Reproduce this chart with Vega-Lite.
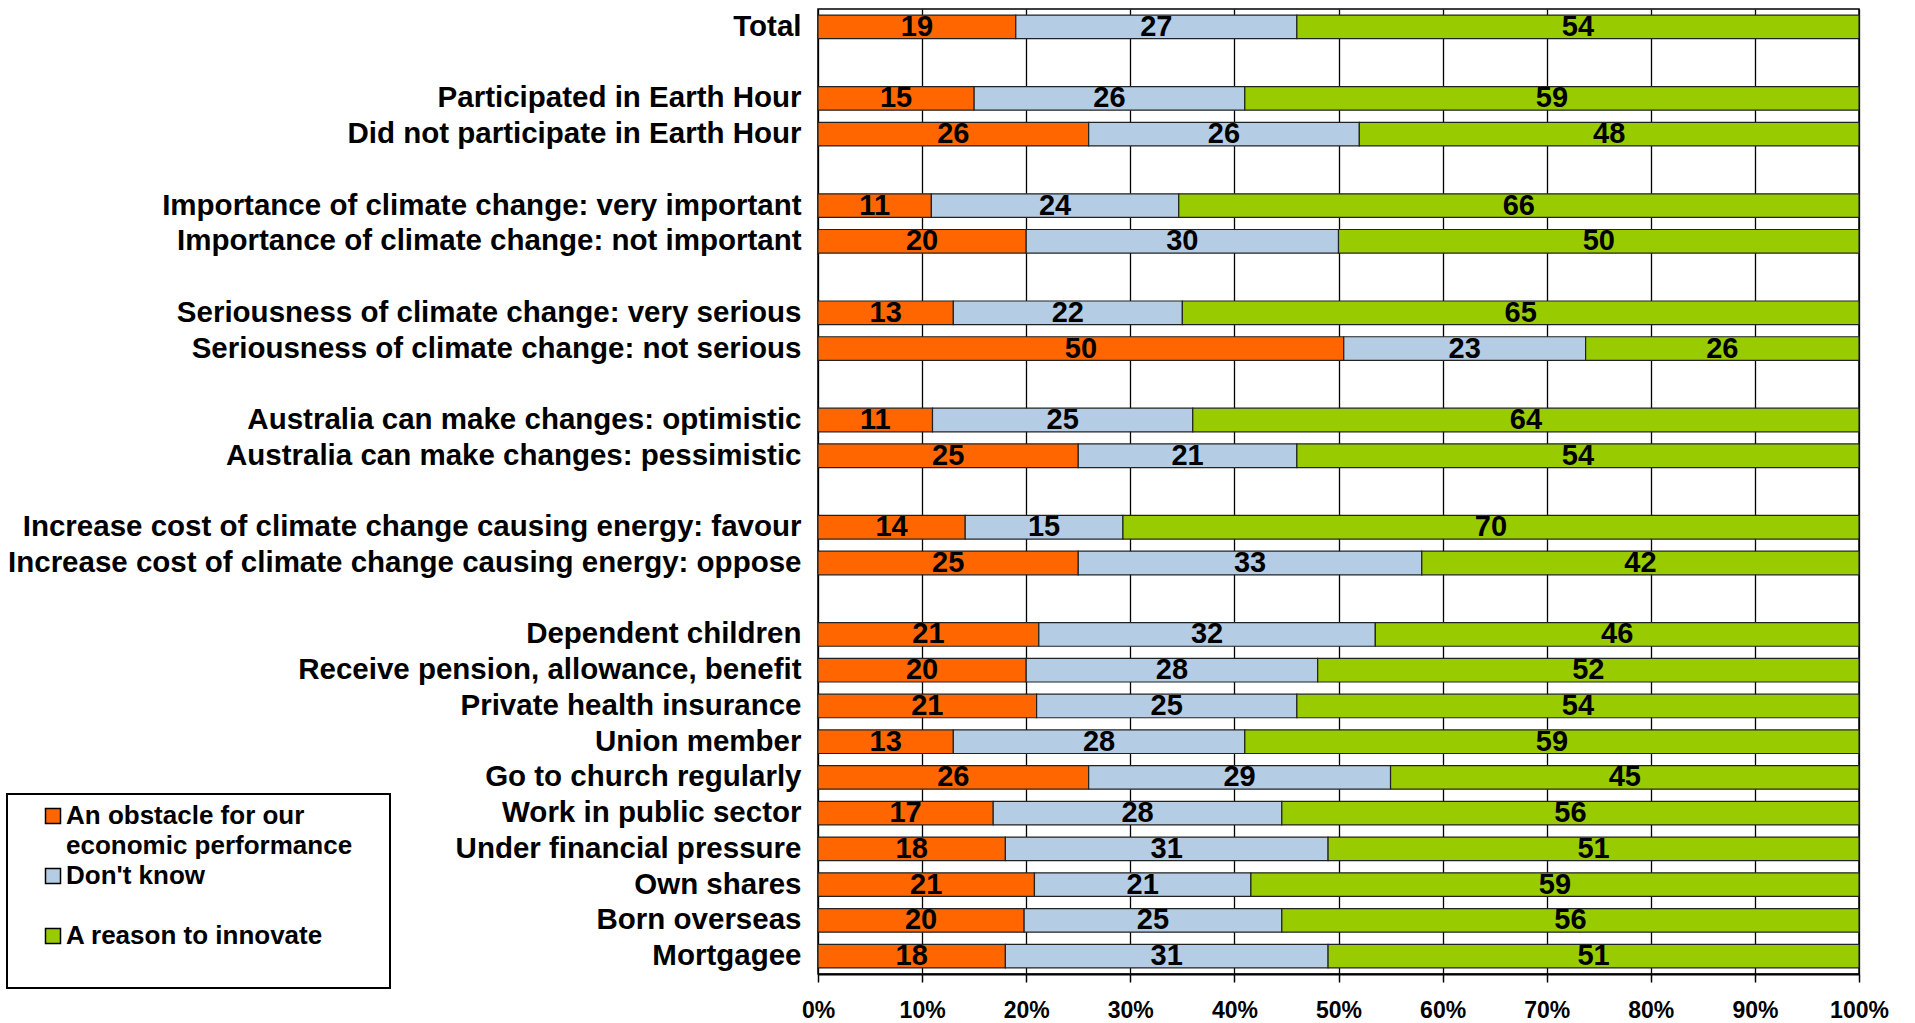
{
  "$schema": "https://vega.github.io/schema/vega-lite/v6.json",
  "autosize": {"type": "none"},
  "padding": {"left": 818, "top": 9, "right": 56, "bottom": 49},
  "width": 1041,
  "height": 965,
  "background": "#ffffff",
  "config": {
    "font": "Liberation Sans",
    "view": {"stroke": "#000000", "strokeWidth": 1.5}
  },
  "datasets": {
    "rows": [
      {"c": "Total", "s": "An obstacle for our economic performance", "k": 1, "v": 19},
      {"c": "Total", "s": "Don't know", "k": 2, "v": 27},
      {"c": "Total", "s": "A reason to innovate", "k": 3, "v": 54},
      {"c": "Participated in Earth Hour", "s": "An obstacle for our economic performance", "k": 1, "v": 15},
      {"c": "Participated in Earth Hour", "s": "Don't know", "k": 2, "v": 26},
      {"c": "Participated in Earth Hour", "s": "A reason to innovate", "k": 3, "v": 59},
      {"c": "Did not participate in Earth Hour", "s": "An obstacle for our economic performance", "k": 1, "v": 26},
      {"c": "Did not participate in Earth Hour", "s": "Don't know", "k": 2, "v": 26},
      {"c": "Did not participate in Earth Hour", "s": "A reason to innovate", "k": 3, "v": 48},
      {"c": "Importance of climate change: very important", "s": "An obstacle for our economic performance", "k": 1, "v": 11},
      {"c": "Importance of climate change: very important", "s": "Don't know", "k": 2, "v": 24},
      {"c": "Importance of climate change: very important", "s": "A reason to innovate", "k": 3, "v": 66},
      {"c": "Importance of climate change: not important", "s": "An obstacle for our economic performance", "k": 1, "v": 20},
      {"c": "Importance of climate change: not important", "s": "Don't know", "k": 2, "v": 30},
      {"c": "Importance of climate change: not important", "s": "A reason to innovate", "k": 3, "v": 50},
      {"c": "Seriousness of climate change: very serious", "s": "An obstacle for our economic performance", "k": 1, "v": 13},
      {"c": "Seriousness of climate change: very serious", "s": "Don't know", "k": 2, "v": 22},
      {"c": "Seriousness of climate change: very serious", "s": "A reason to innovate", "k": 3, "v": 65},
      {"c": "Seriousness of climate change: not serious", "s": "An obstacle for our economic performance", "k": 1, "v": 50},
      {"c": "Seriousness of climate change: not serious", "s": "Don't know", "k": 2, "v": 23},
      {"c": "Seriousness of climate change: not serious", "s": "A reason to innovate", "k": 3, "v": 26},
      {"c": "Australia can make changes: optimistic", "s": "An obstacle for our economic performance", "k": 1, "v": 11},
      {"c": "Australia can make changes: optimistic", "s": "Don't know", "k": 2, "v": 25},
      {"c": "Australia can make changes: optimistic", "s": "A reason to innovate", "k": 3, "v": 64},
      {"c": "Australia can make changes: pessimistic", "s": "An obstacle for our economic performance", "k": 1, "v": 25},
      {"c": "Australia can make changes: pessimistic", "s": "Don't know", "k": 2, "v": 21},
      {"c": "Australia can make changes: pessimistic", "s": "A reason to innovate", "k": 3, "v": 54},
      {"c": "Increase cost of climate change causing energy: favour", "s": "An obstacle for our economic performance", "k": 1, "v": 14},
      {"c": "Increase cost of climate change causing energy: favour", "s": "Don't know", "k": 2, "v": 15},
      {"c": "Increase cost of climate change causing energy: favour", "s": "A reason to innovate", "k": 3, "v": 70},
      {"c": "Increase cost of climate change causing energy: oppose", "s": "An obstacle for our economic performance", "k": 1, "v": 25},
      {"c": "Increase cost of climate change causing energy: oppose", "s": "Don't know", "k": 2, "v": 33},
      {"c": "Increase cost of climate change causing energy: oppose", "s": "A reason to innovate", "k": 3, "v": 42},
      {"c": "Dependent children", "s": "An obstacle for our economic performance", "k": 1, "v": 21},
      {"c": "Dependent children", "s": "Don't know", "k": 2, "v": 32},
      {"c": "Dependent children", "s": "A reason to innovate", "k": 3, "v": 46},
      {"c": "Receive pension, allowance, benefit", "s": "An obstacle for our economic performance", "k": 1, "v": 20},
      {"c": "Receive pension, allowance, benefit", "s": "Don't know", "k": 2, "v": 28},
      {"c": "Receive pension, allowance, benefit", "s": "A reason to innovate", "k": 3, "v": 52},
      {"c": "Private health insurance", "s": "An obstacle for our economic performance", "k": 1, "v": 21},
      {"c": "Private health insurance", "s": "Don't know", "k": 2, "v": 25},
      {"c": "Private health insurance", "s": "A reason to innovate", "k": 3, "v": 54},
      {"c": "Union member", "s": "An obstacle for our economic performance", "k": 1, "v": 13},
      {"c": "Union member", "s": "Don't know", "k": 2, "v": 28},
      {"c": "Union member", "s": "A reason to innovate", "k": 3, "v": 59},
      {"c": "Go to church regularly", "s": "An obstacle for our economic performance", "k": 1, "v": 26},
      {"c": "Go to church regularly", "s": "Don't know", "k": 2, "v": 29},
      {"c": "Go to church regularly", "s": "A reason to innovate", "k": 3, "v": 45},
      {"c": "Work in public sector", "s": "An obstacle for our economic performance", "k": 1, "v": 17},
      {"c": "Work in public sector", "s": "Don't know", "k": 2, "v": 28},
      {"c": "Work in public sector", "s": "A reason to innovate", "k": 3, "v": 56},
      {"c": "Under financial pressure", "s": "An obstacle for our economic performance", "k": 1, "v": 18},
      {"c": "Under financial pressure", "s": "Don't know", "k": 2, "v": 31},
      {"c": "Under financial pressure", "s": "A reason to innovate", "k": 3, "v": 51},
      {"c": "Own shares", "s": "An obstacle for our economic performance", "k": 1, "v": 21},
      {"c": "Own shares", "s": "Don't know", "k": 2, "v": 21},
      {"c": "Own shares", "s": "A reason to innovate", "k": 3, "v": 59},
      {"c": "Born overseas", "s": "An obstacle for our economic performance", "k": 1, "v": 20},
      {"c": "Born overseas", "s": "Don't know", "k": 2, "v": 25},
      {"c": "Born overseas", "s": "A reason to innovate", "k": 3, "v": 56},
      {"c": "Mortgagee", "s": "An obstacle for our economic performance", "k": 1, "v": 18},
      {"c": "Mortgagee", "s": "Don't know", "k": 2, "v": 31},
      {"c": "Mortgagee", "s": "A reason to innovate", "k": 3, "v": 51}
    ]
  },
  "data": {"name": "rows"},
  "encoding": {
    "y": {
      "field": "c",
      "type": "nominal",
      "sort": null,
      "scale": {
        "domain": ["Total", " ", "Participated in Earth Hour", "Did not participate in Earth Hour", "  ", "Importance of climate change: very important", "Importance of climate change: not important", "   ", "Seriousness of climate change: very serious", "Seriousness of climate change: not serious", "    ", "Australia can make changes: optimistic", "Australia can make changes: pessimistic", "     ", "Increase cost of climate change causing energy: favour", "Increase cost of climate change causing energy: oppose", "      ", "Dependent children", "Receive pension, allowance, benefit", "Private health insurance", "Union member", "Go to church regularly", "Work in public sector", "Under financial pressure", "Own shares", "Born overseas", "Mortgagee"],
        "paddingInner": 0.34,
        "paddingOuter": 0.17
      },
      "axis": {
        "title": null,
        "ticks": false,
        "domain": false,
        "labelFont": "Liberation Sans",
        "labelFontSize": 29.5,
        "labelFontWeight": "bold",
        "labelColor": "#000000",
        "labelPadding": 17,
        "labelLimit": 1000
      }
    }
  },
  "layer": [
    {
      "mark": {"type": "bar", "stroke": "#222222", "strokeWidth": 1.2},
      "encoding": {
        "x": {
          "field": "v",
          "type": "quantitative",
          "stack": "normalize",
          "scale": {"domain": [0, 1], "nice": false},
          "axis": {
            "title": null,
            "values": [0, 0.1, 0.2, 0.3, 0.4, 0.5, 0.6, 0.7, 0.8, 0.9, 1],
            "format": ".0%",
            "grid": true,
            "gridColor": "#000000",
            "gridWidth": 1.3,
            "gridOpacity": 1,
            "domainColor": "#000000",
            "domainWidth": 2,
            "tickColor": "#000000",
            "tickWidth": 1.5,
            "tickSize": 8,
            "labelFont": "Liberation Sans",
            "labelFontSize": 23,
            "labelFontWeight": "bold",
            "labelColor": "#000000",
            "labelPadding": 17,
            "labelFlush": false,
            "labelOverlap": false,
            "labelBound": false
          }
        },
        "order": {"field": "k", "type": "quantitative"},
        "color": {
          "field": "s",
          "type": "nominal",
          "scale": {
            "domain": ["An obstacle for our economic performance", "Don't know", "A reason to innovate"],
            "range": ["#FF6600", "#B4CCE4", "#99CC00"]
          },
          "legend": {
            "orient": "none",
            "legendX": -811,
            "legendY": 785,
            "title": null,
            "padding": 9,
            "strokeColor": "#000000",
            "fillColor": "#ffffff",
            "symbolType": "square",
            "symbolSize": 225,
            "symbolStrokeColor": "#000000",
            "symbolStrokeWidth": 1.5,
            "symbolOpacity": 1,
            "symbolOffset": 24,
            "labelOffset": 0,
            "labelFont": "Liberation Sans",
            "labelFontSize": 26,
            "labelFontWeight": "bold",
            "labelColor": "#000000",
            "labelLimit": 600,
            "labelBaseline": "top",
            "rowPadding": 4,
            "labelExpr": "datum.label == 'An obstacle for our economic performance' ? ['An obstacle for our', 'economic performance\u00a0\u00a0\u00a0\u00a0\u200b'] : [datum.label, '']",
            "encode": {
              "labels": {"update": {"dy": {"value": -13}, "lineHeight": {"value": 30}}},
              "legend": {"update": {"strokeWidth": {"value": 2}}}
            }
          }
        }
      }
    },
    {
      "mark": {"type": "text", "color": "#000000", "font": "Liberation Sans", "fontSize": 29, "fontWeight": "bold", "baseline": "middle", "align": "center"},
      "encoding": {
        "x": {"field": "v", "type": "quantitative", "stack": "normalize", "bandPosition": 0.5},
        "order": {"field": "k", "type": "quantitative"},
        "detail": {"field": "s", "type": "nominal"},
        "text": {"field": "v", "type": "quantitative", "format": "d"}
      }
    }
  ]
}
